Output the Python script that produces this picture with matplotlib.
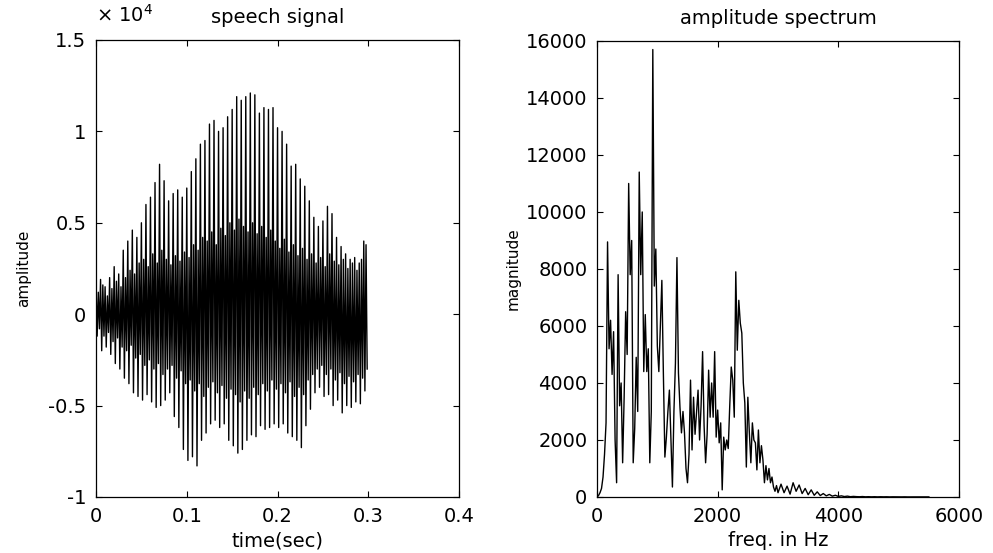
import numpy as np
import matplotlib
matplotlib.use("Agg")
from matplotlib import pyplot as plt

# speech signal, one pitch pulse every 5 ms, amplitude in units of 1e4
pulse_hi = [0.17, 0.19, 0.15, 0.20, 0.26, 0.22, 0.35, 0.40, 0.46, 0.42,
            0.50, 0.60, 0.64, 0.72, 0.82, 0.73, 0.62, 0.66, 0.68, 0.64,
            0.69, 0.78, 0.85, 0.93, 0.95, 1.04, 1.06, 1.00, 1.02, 1.08,
            1.12, 1.19, 1.17, 1.19, 1.21, 1.20, 1.10, 1.13, 1.12, 1.13,
            1.02, 1.00, 0.93, 0.81, 0.82, 0.74, 0.70, 0.62, 0.53, 0.48,
            0.51, 0.59, 0.55, 0.42, 0.37, 0.33, 0.30, 0.31, 0.28, 0.40]
pulse_lo = [-0.12, -0.20, -0.18, -0.22, -0.27, -0.30, -0.35, -0.38, -0.43, -0.45,
            -0.47, -0.44, -0.48, -0.51, -0.50, -0.47, -0.43, -0.56, -0.62, -0.74,
            -0.80, -0.78, -0.83, -0.69, -0.65, -0.60, -0.58, -0.62, -0.60, -0.69,
            -0.72, -0.76, -0.74, -0.69, -0.66, -0.67, -0.61, -0.63, -0.62, -0.60,
            -0.62, -0.60, -0.65, -0.67, -0.69, -0.73, -0.61, -0.52, -0.43, -0.40,
            -0.45, -0.44, -0.50, -0.47, -0.54, -0.50, -0.51, -0.48, -0.49, -0.42]
band_hi = [0.12, 0.16, 0.10, 0.14, 0.18, 0.15, 0.20, 0.24, 0.22, 0.28,
           0.30, 0.26, 0.33, 0.28, 0.35, 0.30, 0.27, 0.32, 0.29, 0.34,
           0.31, 0.38, 0.35, 0.42, 0.40, 0.45, 0.38, 0.47, 0.43, 0.50,
           0.46, 0.52, 0.48, 0.45, 0.50, 0.44, 0.48, 0.42, 0.46, 0.40,
           0.36, 0.41, 0.34, 0.38, 0.32, 0.36, 0.30, 0.33, 0.28, 0.31,
           0.26, 0.33, 0.29, 0.27, 0.30, 0.25, 0.28, 0.24, 0.30, 0.38]
band_lo = [-0.08, -0.12, -0.10, -0.15, -0.13, -0.18, -0.20, -0.17, -0.24, -0.22,
           -0.28, -0.25, -0.30, -0.27, -0.33, -0.30, -0.28, -0.35, -0.31, -0.38,
           -0.36, -0.42, -0.38, -0.45, -0.40, -0.37, -0.43, -0.39, -0.46, -0.41,
           -0.44, -0.48, -0.42, -0.46, -0.40, -0.44, -0.38, -0.42, -0.36, -0.41,
           -0.38, -0.43, -0.37, -0.45, -0.40, -0.44, -0.36, -0.33, -0.30, -0.28,
           -0.33, -0.30, -0.36, -0.32, -0.38, -0.34, -0.37, -0.33, -0.35, -0.30]
fs_signal = 800

# amplitude spectrum, 25 Hz bins up to 3000 Hz, 50 Hz bins above
spec_low = [0, 50, 150, 300, 700, 1500, 2600, 8950, 5200, 6200,
            4300, 5800, 2000, 500, 7800, 3200, 4000, 1200, 3500, 6500,
            5000, 11000, 7800, 9000, 1200, 2400, 4900, 3000, 11400, 7800,
            10000, 4400, 6400, 4400, 5200, 1200, 3000, 15700, 7400, 8700,
            5300, 4400, 6000, 7600, 4350, 1400, 2100, 3000, 3750, 2000,
            350, 3000, 4700, 8400, 4350, 3150, 2250, 3000, 2250, 1000,
            500, 1500, 4100, 1650, 3500, 2200, 3000, 3750, 2000, 3200,
            5100, 2500, 1200, 2200, 4450, 2800, 4000, 2800, 5100, 2100,
            3050, 1900, 2600, 250, 2100, 1650, 2000, 1700, 3200, 4560,
            4100, 2800, 7900, 5150, 6900, 6100, 5750, 4000, 3300, 1050,
            3500, 2250, 1200, 2600, 2000, 1900, 950, 2350, 1200, 1800,
            1300, 500, 1100, 600, 1000, 500, 700, 350, 200, 400,
            150]
spec_tail = [450, 150, 380, 100, 500, 200, 420, 120, 300, 80,
             250, 60, 180, 50, 120, 40, 90, 30, 60, 20,
             40, 15, 30, 10, 20, 12, 8, 15, 6, 10,
             5, 9, 4, 8, 5, 7, 3, 6, 4, 5,
             3, 5, 2, 4, 3, 4, 2, 3, 2, 3]

signal = np.column_stack([pulse_hi, pulse_lo, band_hi, band_lo]).ravel()
t = np.arange(len(signal)) / fs_signal
freq = np.concatenate([np.arange(len(spec_low)) * 25.0,
                       3000 + np.arange(1, len(spec_tail) + 1) * 50.0])
mag = np.array(spec_low + spec_tail)

plt.rcParams["font.family"] = "DejaVu Sans"

fig = plt.figure(figsize=(9.93, 5.53), dpi=100)
ax1 = fig.add_axes([0.0967, 0.1013, 0.3656, 0.8264])
ax2 = fig.add_axes([0.6012, 0.1013, 0.3646, 0.8246])

ax1.plot(t, signal, color="black", linewidth=1.0)
ax1.set_xlim(0, 0.4)
ax1.set_ylim(-1, 1.5)
ax1.set_xticks([0, 0.1, 0.2, 0.3, 0.4])
ax1.set_xticklabels(["0", "0.1", "0.2", "0.3", "0.4"])
ax1.set_yticks([-1, -0.5, 0, 0.5, 1, 1.5])
ax1.set_yticklabels(["-1", "-0.5", "0", "0.5", "1", "1.5"])
ax1.set_title("speech signal", fontsize=14, pad=12)
ax1.set_xlabel("time(sec)", fontsize=14)
ax1.set_ylabel("amplitude", fontsize=11)
ax1.yaxis.set_label_coords(-0.18, 0.5)
ax1.xaxis.set_label_coords(0.5, -0.075)
ax1.text(0.0, 1.03, "× 10$^4$", transform=ax1.transAxes, fontsize=14,
         ha="left", va="bottom")

ax2.plot(freq, mag, color="black", linewidth=1.0)
ax2.set_xlim(0, 6000)
ax2.set_ylim(0, 16000)
ax2.set_xticks([0, 2000, 4000, 6000])
ax2.set_yticks(np.arange(0, 16001, 2000))
ax2.set_title("amplitude spectrum", fontsize=14, pad=12)
ax2.set_xlabel("freq. in Hz", fontsize=14)
ax2.set_ylabel("magnitude", fontsize=11)
ax2.yaxis.set_label_coords(-0.21, 0.5)
ax2.xaxis.set_label_coords(0.5, -0.075)

for ax in (ax1, ax2):
    ax.tick_params(direction="in", length=4, width=0.8, top=True, right=True,
                   labelsize=14, pad=7)
    for s in ax.spines.values():
        s.set_linewidth(0.9)

plt.savefig("out.png", dpi=100)
